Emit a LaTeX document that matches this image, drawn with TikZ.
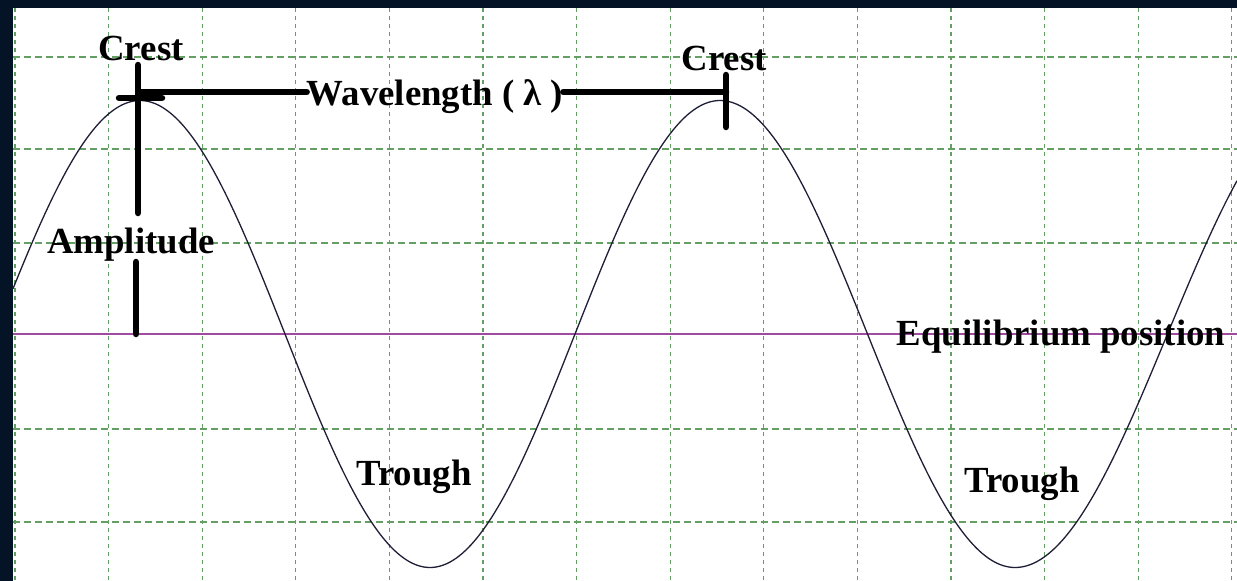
\documentclass[tikz,border=0pt]{standalone}
\usepackage{fontspec}
\setmainfont{Liberation Serif}
\definecolor{bgnavy}{RGB}{4,19,38}
\definecolor{gridgreen}{RGB}{100,160,100}
\definecolor{eqpurple}{RGB}{160,75,160}
\definecolor{wavecol}{RGB}{30,30,55}
\tikzset{
  lbl/.style={inner sep=0pt, anchor=base, font=\fontsize{36.8}{40}\selectfont\bfseries},
  bar/.style={line width=6.5pt, line cap=round, black},
  gridv/.style={gridgreen, line width=1.1pt, dash pattern=on 4pt off 4pt},
  gridh/.style={gridgreen, line width=1.1pt, dash pattern=on 7pt off 4pt},
  wave/.style={wavecol, line width=1.3pt},
  eqline/.style={eqpurple, line width=1.6pt}
}
\begin{document}
\begin{tikzpicture}[x=1pt,y=-1pt]
\useasboundingbox (0,0) rectangle (1237,581);
\fill[bgnavy] (0,0) rectangle (1237,581);
\fill[white] (13,8) rectangle (1237,581);
% grid
\foreach \k in {0,...,13} {
  \draw[gridv] ({15+93.6*\k},8) -- ({15+93.6*\k},581);
}
\foreach \yy in {57,149,243,429,522} {
  \draw[gridh] (13,\yy) -- (1237,\yy);
}
% equilibrium line
\coordinate (eqL) at (13,334);
\coordinate (eqR) at (1237,334);
\draw[eqline] (eqL) -- (eqR);
% wave
\draw[wave] plot[domain=13:140, samples=50] (\x, {334+233.5*cos(((\x+150)/290)*180)})
  -- plot[domain=140:430, samples=100] (\x, {334-233.5*cos(((\x-140)/290)*180)})
  -- plot[domain=430:720, samples=100] (\x, {334+233.5*cos(((\x-430)/290)*180)})
  -- plot[domain=720:1015, samples=100] (\x, {334-233.5*cos(((\x-720)/295)*180)})
  -- plot[domain=1015:1237, samples=80] (\x, {334+233.5*cos(((\x-1015)/305)*180)});
% labels
\node[lbl] (crest1) at (141,60) {Crest};
\node[lbl] (crest2) at (724,70) {Crest};
\node[lbl] (wl) at (435,105) {Wavelength ( λ )};
\node[lbl] (amp) at (131,253) {Amplitude};
\node[lbl] (equi) at (1061,345) {Equilibrium position};
\node[lbl] (tr1) at (414,485) {Trough};
\node[lbl] (tr2) at (1022,492) {Trough};
% amplitude bars
\coordinate (ampTop) at (138,65);
\coordinate (ampA) at (138,213);
\coordinate (ampB) at (136,262);
\coordinate (ampBot) at (136,334);
\draw[bar] (ampTop) -- (ampA);
\draw[bar] (ampB) -- (ampBot);
% crest marker blob
\coordinate (blobL) at (119,98);
\coordinate (blobR) at (162,98);
\draw[bar] (blobL) -- (blobR);
% wavelength bars
\coordinate (wlL) at (140,92);
\coordinate (wlR) at (726,92);
\draw[bar] (wlL) -- (wlL -| wl.west);
\draw[bar] (wl.east |- wlR) -- (wlR);
% crest 2 tick
\coordinate (tickTop) at (726,75);
\coordinate (tickBot) at (726,127);
\draw[bar] (tickTop) -- (tickBot);
\end{tikzpicture}
\end{document}
